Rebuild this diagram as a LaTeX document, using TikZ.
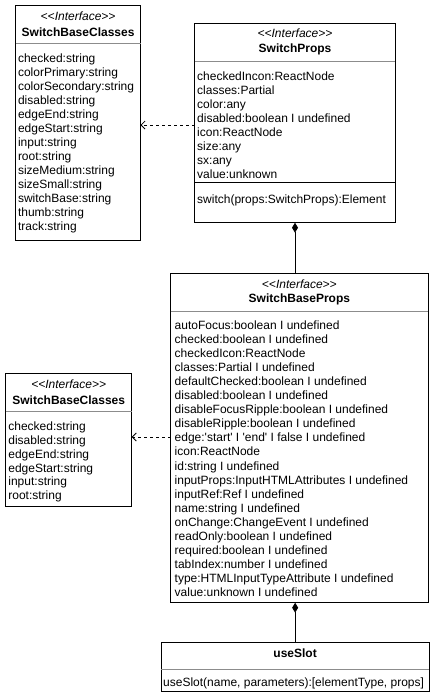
\documentclass[tikz,border=0pt]{standalone}
\usepackage{fontspec}
\setmainfont{Liberation Sans}[Ligatures=TeXOff]
\usetikzlibrary{arrows.meta}
\begin{document}
\begin{tikzpicture}[x=1pt,y=-1pt,
  box/.style={draw=black,line width=1pt,inner sep=0pt,outer sep=0pt,anchor=north west},
  txt/.style={anchor=base west,inner sep=0pt,font=\fontsize{12}{14}\selectfont},
  stereo/.style={anchor=base,inner sep=0pt,font=\fontsize{12}{14}\selectfont\itshape},
  cname/.style={anchor=base,inner sep=0pt,font=\fontsize{12}{14}\selectfont\bfseries},
  hsep/.style={draw=black!45,line width=1pt},
  msep/.style={draw=black,line width=1pt},
  dep/.style={draw=black,line width=1pt,dash pattern=on 3pt off 3pt,-{Straight Barb[length=4pt,width=8pt,line width=0.8pt]}},
  comp/.style={draw=black,line width=1pt,-{Diamond[length=10pt,width=6pt]}}
]
\useasboundingbox (0,0) rectangle (435,699);

% ---- SwitchBaseClasses (top) ----
\node[box,minimum width=124.8pt,minimum height=235.5pt] (sbcA) at (15.7,5) {};
\draw[hsep] (15.7,43.5) -- (140.5,43.5);
\node[stereo] (sbcAs) at (78.1,20.3) {<<Interface>>};
\node[cname] (sbcAn) at (78.1,36) {SwitchBaseClasses};
\foreach \t [count=\i from 0] in {checked:string,colorPrimary:string,colorSecondary:string,disabled:string,edgeEnd:string,edgeStart:string,input:string,root:string,sizeMedium:string,sizeSmall:string,switchBase:string,thumb:string,track:string}
  \node[txt] (sbcA\i) at (17.8,62.3+14*\i) {\t};

% ---- SwitchProps ----
\node[box,minimum width=200.6pt,minimum height=199.4pt] (sp) at (194.7,23.3) {};
\draw[hsep] (194.7,61) -- (395.3,61);
\draw[msep] (194.7,182.7) -- (395.3,182.7);
\node[stereo] (sps) at (295,37.6) {<<Interface>>};
\node[cname] (spn) at (295,52.6) {SwitchProps};
\foreach \t [count=\i from 0] in {checkedIncon:ReactNode,classes:Partial,color:any,disabled:boolean I undefined,icon:ReactNode,size:any,sx:any,value:unknown}
  \node[txt] (sp\i) at (197,80.3+14*\i) {\t};
\node[txt] (spm) at (197,203.6) {switch(props:SwitchProps):Element};

% ---- SwitchBaseProps ----
\node[box,minimum width=257.3pt,minimum height=329.4pt] (sbp) at (170.7,273.3) {};
\draw[hsep] (170.7,311) -- (428,311);
\node[stereo] (sbps) at (299.35,288.3) {<<Interface>>};
\node[cname] (sbpn) at (299.35,302) {SwitchBaseProps};
\foreach \t [count=\i from 0] in {autoFocus:boolean I undefined,checked:boolean I undefined,checkedIcon:ReactNode,classes:Partial I undefined,defaultChecked:boolean I undefined,disabled:boolean I undefined,disableFocusRipple:boolean I undefined,disableRipple:boolean I undefined,edge:'start' I 'end' I false I undefined,icon:ReactNode,id:string I undefined,inputProps:InputHTMLAttributes I undefined,inputRef:Ref I undefined,name:string I undefined,onChange:ChangeEvent I undefined,readOnly:boolean I undefined,required:boolean I undefined,tabIndex:number I undefined,type:HTMLInputTypeAttribute I undefined,value:unknown I undefined}
  \node[txt] (sbp\i) at (174.5,329.3+14.07*\i) {\t};

% ---- useSlot ----
\node[box,minimum width=268.3pt,minimum height=49pt] (us) at (161,642.7) {};
\draw[hsep] (161,669.3) -- (429.3,669.3);
\node[cname] (usn) at (295.15,657.6) {useSlot};
\node[txt] (usm) at (163,686) {useSlot(name, parameters):[elementType, props]};

% ---- SwitchBaseClasses (bottom) ----
\node[box,minimum width=126pt,minimum height=132.7pt] (sbcB) at (5.7,373.3) {};
\draw[hsep] (5.7,411.5) -- (131.7,411.5);
\node[stereo] (sbcBs) at (68.7,388.6) {<<Interface>>};
\node[cname] (sbcBn) at (68.7,404.3) {SwitchBaseClasses};
\foreach \t [count=\i from 0] in {checked:string,disabled:string,edgeEnd:string,edgeStart:string,input:string,root:string}
  \node[txt] (sbcB\i) at (8.2,430.6+13.8*\i) {\t};

% ---- connectors ----
\coordinate (dA) at (0,125);
\draw[dep] (sp.west |- dA) -- (sbcA.east |- dA);
\coordinate (dB) at (0,437);
\draw[dep] (sbp.west |- dB) -- (sbcB.east |- dB);
\draw[comp] (sp.south |- sbp.north) -- (sp.south);
\draw[comp] (us.north) -- (us.north |- sbp.south);
\end{tikzpicture}
\end{document}
